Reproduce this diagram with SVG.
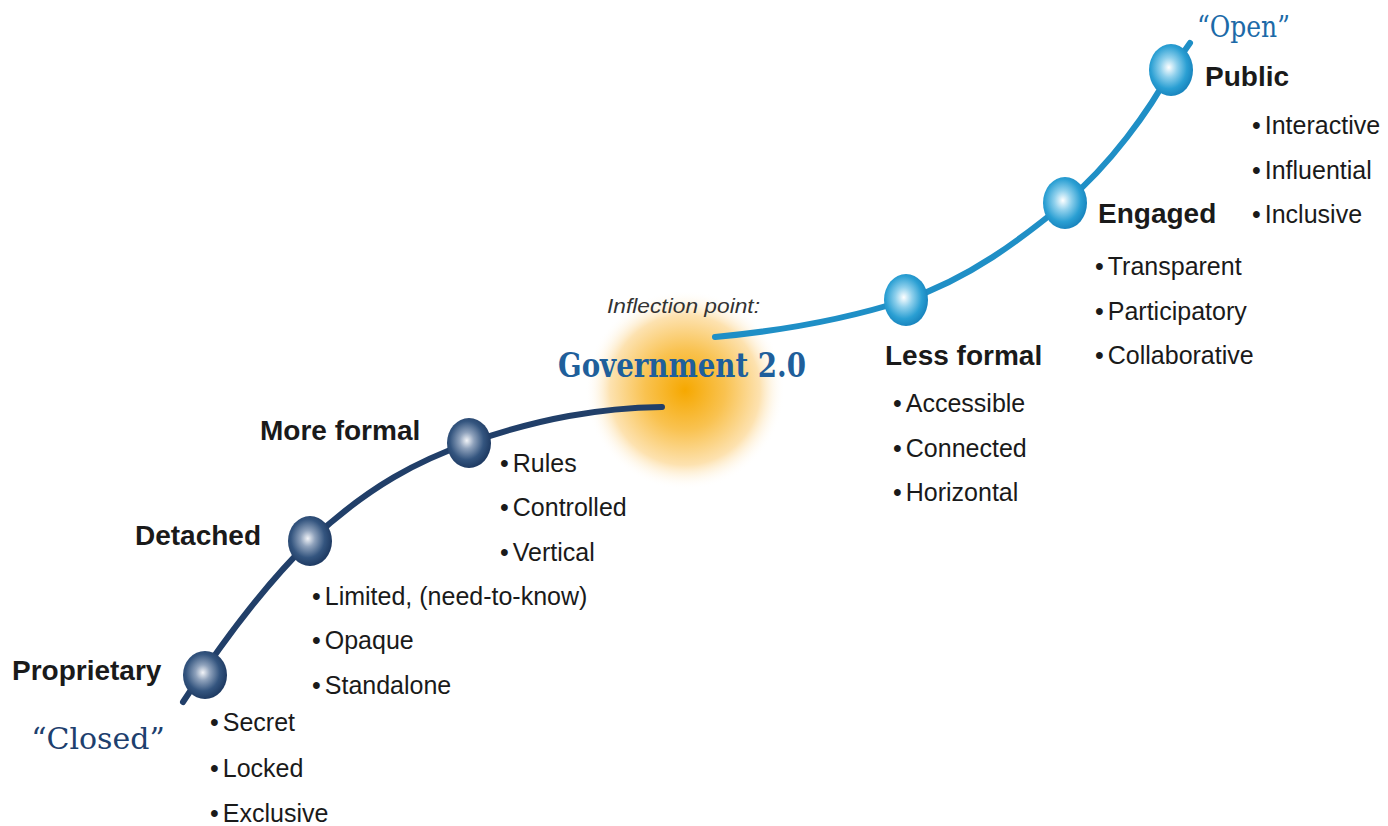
<svg xmlns="http://www.w3.org/2000/svg" width="1388" height="826" viewBox="0 0 1388 826">
<defs>
<radialGradient id="glow" cx="0.5" cy="0.5" r="0.5">
<stop offset="0" stop-color="#f6a800"/>
<stop offset="0.4" stop-color="#f9c250"/>
<stop offset="0.75" stop-color="#fde2b0"/>
<stop offset="1" stop-color="#ffffff" stop-opacity="0"/>
</radialGradient>
<radialGradient id="dark" cx="0.45" cy="0.45" r="0.55">
<stop offset="0" stop-color="#f2f4f8"/>
<stop offset="0.3" stop-color="#8ea1bb"/>
<stop offset="0.7" stop-color="#34557f"/>
<stop offset="1" stop-color="#1f3b63"/>
</radialGradient>
<radialGradient id="light" cx="0.45" cy="0.45" r="0.55">
<stop offset="0" stop-color="#ffffff"/>
<stop offset="0.35" stop-color="#8fd0ec"/>
<stop offset="0.75" stop-color="#2a9fd3"/>
<stop offset="1" stop-color="#1a86bf"/>
</radialGradient>
</defs>
<style>
.lbl{font-family:"Liberation Sans",Arial,sans-serif;font-weight:bold;font-size:28px;fill:#1a1a1a}
.b{font-family:"Liberation Sans",Arial,sans-serif;font-size:25px;fill:#1a1a1a}
.slab{font-family:"DejaVu Serif","Liberation Serif",serif}
.dk{fill:none;stroke:#213f69;stroke-width:6;stroke-linecap:round}
.lt{fill:none;stroke:#1f8fc6;stroke-width:6;stroke-linecap:round}
</style>
<rect width="1388" height="826" fill="#ffffff"/>
<circle cx="685" cy="390" r="100" fill="url(#glow)"/>
<g id="connectors">
<path class="dk" d="M183,702 C230,630 270,580 310,541 C370,485 420,460 469,443 C540,418 600,408 662,407"/>
<path class="lt" d="M715,337 C790,330 850,318 906,300 C970,278 1020,240 1065,203 C1110,165 1150,110 1171,70 L1190,43"/>
</g>
<g id="closed">
<text class="slab" x="98" y="749" text-anchor="middle" font-size="30" fill="#1d406e">“Closed”</text>
</g>
<g id="proprietary">
<ellipse cx="205" cy="675" rx="22" ry="24" fill="url(#dark)"/>
<text class="lbl" x="12" y="680">Proprietary</text>
<text class="b" x="210" y="731"><tspan>•</tspan><tspan dx="4">Secret</tspan></text>
<text class="b" x="210" y="777"><tspan>•</tspan><tspan dx="4">Locked</tspan></text>
<text class="b" x="210" y="822"><tspan>•</tspan><tspan dx="4">Exclusive</tspan></text>
</g>
<g id="detached">
<ellipse cx="310" cy="541" rx="22" ry="25" fill="url(#dark)"/>
<text class="lbl" x="135" y="545">Detached</text>
<text class="b" x="312" y="605"><tspan>•</tspan><tspan dx="4">Limited, (need-to-know)</tspan></text>
<text class="b" x="312" y="649"><tspan>•</tspan><tspan dx="4">Opaque</tspan></text>
<text class="b" x="312" y="694"><tspan>•</tspan><tspan dx="4">Standalone</tspan></text>
</g>
<g id="more-formal">
<ellipse cx="469" cy="443" rx="22" ry="25" fill="url(#dark)"/>
<text class="lbl" x="260" y="440">More formal</text>
<text class="b" x="500" y="472"><tspan>•</tspan><tspan dx="4">Rules</tspan></text>
<text class="b" x="500" y="516"><tspan>•</tspan><tspan dx="4">Controlled</tspan></text>
<text class="b" x="500" y="561"><tspan>•</tspan><tspan dx="4">Vertical</tspan></text>
</g>
<g id="inflection">
<text x="607" y="313" font-family="Liberation Sans,Arial,sans-serif" font-style="italic" font-size="21" fill="#333333" textLength="153" lengthAdjust="spacingAndGlyphs">Inflection point:</text>
<text class="slab" x="558" y="377" font-size="33" font-weight="bold" fill="#1f5f9b" textLength="248" lengthAdjust="spacingAndGlyphs">Government 2.0</text>
</g>
<g id="less-formal">
<ellipse cx="906" cy="300" rx="22" ry="26" fill="url(#light)"/>
<text class="lbl" x="885" y="365">Less formal</text>
<text class="b" x="893" y="412"><tspan>•</tspan><tspan dx="4">Accessible</tspan></text>
<text class="b" x="893" y="457"><tspan>•</tspan><tspan dx="4">Connected</tspan></text>
<text class="b" x="893" y="501"><tspan>•</tspan><tspan dx="4">Horizontal</tspan></text>
</g>
<g id="engaged">
<ellipse cx="1065" cy="203" rx="22" ry="26" fill="url(#light)"/>
<text class="lbl" x="1098" y="223">Engaged</text>
<text class="b" x="1095" y="275"><tspan>•</tspan><tspan dx="4">Transparent</tspan></text>
<text class="b" x="1095" y="320"><tspan>•</tspan><tspan dx="4">Participatory</tspan></text>
<text class="b" x="1095" y="364"><tspan>•</tspan><tspan dx="4">Collaborative</tspan></text>
</g>
<g id="public">
<ellipse cx="1171" cy="70" rx="22" ry="26" fill="url(#light)"/>
<text class="lbl" x="1205" y="86">Public</text>
<text class="b" x="1252" y="134"><tspan>•</tspan><tspan dx="4">Interactive</tspan></text>
<text class="b" x="1252" y="179"><tspan>•</tspan><tspan dx="4">Influential</tspan></text>
<text class="b" x="1252" y="223"><tspan>•</tspan><tspan dx="4">Inclusive</tspan></text>
</g>
<g id="open">
<text class="slab" x="1197" y="37" font-size="29" fill="#1c6aa8" textLength="93" lengthAdjust="spacingAndGlyphs">“Open”</text>
</g>
</svg>
